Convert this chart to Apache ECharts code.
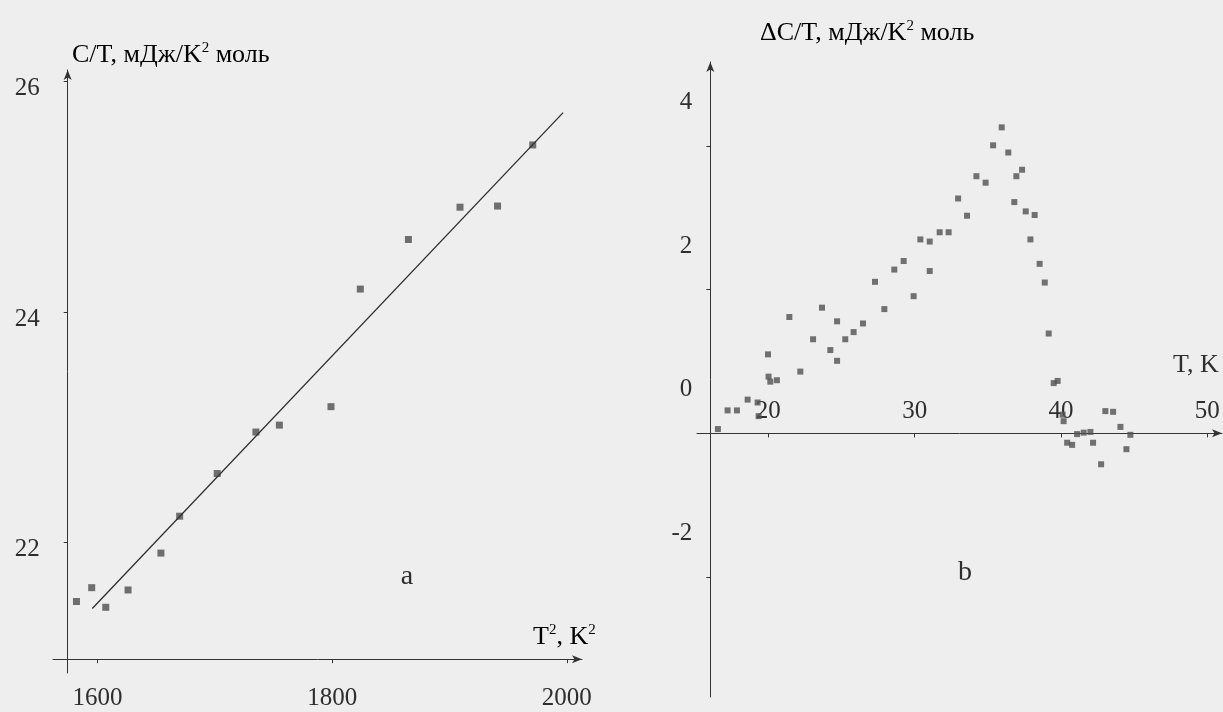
<!DOCTYPE html>
<html>
<head>
<meta charset="utf-8">
<script src="https://cdn.jsdelivr.net/npm/echarts@6/dist/echarts.min.js"></script>
<style>
html,body{margin:0;padding:0;background:#eeeeee;}
#c{width:1223px;height:712px;}
</style>
</head>
<body>
<div id="c"></div>
<script>
// ---- Panel a: C/T vs T^2 ----
const aT2 = [1582, 1595, 1607, 1626, 1654, 1670, 1702, 1735, 1755, 1799, 1824, 1865, 1909, 1941, 1971];
const aCT = [21.49, 21.61, 21.44, 21.59, 21.91, 22.23, 22.60, 22.96, 23.02, 23.18, 24.20, 24.63, 24.91, 24.92, 25.45];
const aFitT2 = [1595.5, 1996.9];
const aFitCT = [21.43, 25.73];
const aXTicks = [1600, 1800, 2000];
const aYTicks = [22, 24, 26];

// ---- Panel b: dC/T vs T ----
const bT = [16.56, 17.22, 17.86, 18.59, 19.27, 19.34, 19.98, 20.02, 20.14, 20.59,
  21.44, 22.19, 23.06, 23.67, 24.24, 24.70, 24.70, 25.26, 25.83, 26.47,
  27.29, 27.93, 28.61, 29.25, 29.93, 30.39, 31.03, 31.03, 31.71, 32.32,
  32.97, 33.58, 34.22, 34.85, 35.36, 35.95, 36.40, 36.95, 37.34, 36.81,
  37.59, 38.20, 37.91, 38.54, 38.89, 39.16, 39.50, 39.77, 40.11, 40.18,
  40.42, 40.76, 41.10, 41.55, 42.01, 42.19, 42.74, 43.03, 43.56, 44.06,
  44.47, 44.74];
const bDC = [0.06, 0.32, 0.32, 0.47, 0.43, 0.24, 1.10, 0.79, 0.72, 0.74,
  1.62, 0.86, 1.31, 1.75, 1.16, 1.56, 1.01, 1.31, 1.41, 1.53,
  2.11, 1.73, 2.28, 2.40, 1.91, 2.70, 2.67, 2.26, 2.80, 2.80,
  3.27, 3.03, 3.58, 3.49, 4.01, 4.26, 3.91, 3.58, 3.67, 3.22,
  3.09, 3.04, 2.70, 2.36, 2.10, 1.39, 0.70, 0.73, 0.26, 0.17,
  -0.13, -0.16, -0.01, 0.01, 0.02, -0.13, -0.43, 0.31, 0.30, 0.09,
  -0.22, -0.02];
const bXTicks = [20, 30, 40, 50];
const bYTicks = [-2, 0, 2, 4];

// axis ranges and crossing points
const aRange = {xMin: 1562, xMax: 2013, yMin: 20.87, yMax: 26.1, crossX: 1574.5, crossY: 20.99};
const bRange = {xMin: 15.13, xMax: 51, yMin: -3.67, yMax: 5.17, crossX: 16.04, crossY: 0};

const gA = {left: 53, top: 70, width: 529, height: 603};
const gB = {left: 697, top: 62, width: 525, height: 635};

const FONT = 'Liberation Serif';
const TXT = '#2e2e2e';
const AX = '#333';

function xOff(r, g) { return -(r.crossY - r.yMin) / (r.yMax - r.yMin) * g.height; }
function yOff(r, g) { return -(r.crossX - r.xMin) / (r.xMax - r.xMin) * g.width; }
const plain = v => String(v);

const axisLineStyle = {show: true, onZero: false, symbol: ['none', 'arrow'], symbolSize: [6, 10], lineStyle: {color: AX, width: 1}};

const chart = echarts.init(document.getElementById('c'), null, {renderer: 'canvas'});

const rich = {
  n: {fontSize: 26, fontFamily: FONT, color: TXT},
  s: {fontSize: 15, fontFamily: FONT, color: TXT, padding: [0, 0, 14, 0]}
};

chart.setOption({
  animation: false,
  backgroundColor: '#eeeeee',
  grid: [
    Object.assign({containLabel: false, outerBoundsMode: 'none'}, gA),
    Object.assign({containLabel: false, outerBoundsMode: 'none'}, gB)
  ],
  xAxis: [
    {
      gridIndex: 0, type: 'value', min: aRange.xMin, max: aRange.xMax,
      offset: xOff(aRange, gA),
      axisLine: axisLineStyle,
      axisTick: {show: true, length: 4, customValues: aXTicks, lineStyle: {color: AX}},
      axisLabel: {customValues: aXTicks, formatter: plain, margin: 27, fontFamily: FONT, fontSize: 25, color: TXT},
      splitLine: {show: false}
    },
    {
      gridIndex: 1, type: 'value', min: bRange.xMin, max: bRange.xMax,
      offset: xOff(bRange, gB),
      axisLine: axisLineStyle,
      axisTick: {show: true, length: 4, customValues: bXTicks, lineStyle: {color: AX}},
      axisLabel: {customValues: bXTicks, formatter: plain, inside: true, margin: 9, fontFamily: FONT, fontSize: 25, color: TXT},
      splitLine: {show: false}
    }
  ],
  yAxis: [
    {
      gridIndex: 0, type: 'value', min: aRange.yMin, max: aRange.yMax,
      offset: yOff(aRange, gA),
      axisLine: axisLineStyle,
      axisTick: {show: true, length: 4, customValues: aYTicks, lineStyle: {color: AX}},
      axisLabel: {customValues: aYTicks, formatter: plain, margin: 28, fontFamily: FONT, fontSize: 25, color: TXT, verticalAlign: 'top', lineHeight: 14},
      splitLine: {show: false}
    },
    {
      gridIndex: 1, type: 'value', min: bRange.yMin, max: bRange.yMax,
      offset: yOff(bRange, gB),
      axisLine: axisLineStyle,
      axisTick: {show: true, length: 4, customValues: bYTicks, lineStyle: {color: AX}},
      axisLabel: {customValues: bYTicks, formatter: plain, margin: 18, fontFamily: FONT, fontSize: 25, color: TXT, verticalAlign: 'bottom', padding: [0, 0, 31, 0]},
      splitLine: {show: false}
    }
  ],
  series: [
    {
      type: 'line', xAxisIndex: 0, yAxisIndex: 0,
      data: aFitT2.map((v, i) => [v, aFitCT[i]]),
      symbol: 'none', lineStyle: {color: '#2e2e2e', width: 1.3}, silent: true
    },
    {
      type: 'scatter', xAxisIndex: 0, yAxisIndex: 0,
      data: aT2.map((v, i) => [v, aCT[i]]),
      symbol: 'rect', symbolSize: 7, itemStyle: {color: '#4d4d4d'}
    },
    {
      type: 'scatter', xAxisIndex: 1, yAxisIndex: 1,
      data: bT.map((v, i) => [v, bDC[i]]),
      symbol: 'rect', symbolSize: 6, itemStyle: {color: '#505050'}
    }
  ],
  graphic: [
    {type: 'text', x: 72, y: 55, style: {text: '{n|C/T, мДж/K}{s|2}{n| моль}', rich: rich, align: 'left', verticalAlign: 'middle'}},
    {type: 'text', x: 760, y: 33, style: {text: '{n|ΔC/T, мДж/K}{s|2}{n| моль}', rich: rich, align: 'left', verticalAlign: 'middle'}},
    {type: 'text', x: 533, y: 637, style: {text: '{n|T}{s|2}{n|, K}{s|2}', rich: rich, align: 'left', verticalAlign: 'middle'}},
    {type: 'text', x: 1173, y: 365, style: {text: 'T, K', fontFamily: FONT, fontSize: 26, fill: TXT, align: 'left', verticalAlign: 'middle'}},
    {type: 'text', x: 407, y: 577, style: {text: 'a', fontFamily: FONT, fontSize: 28, fill: TXT, align: 'center', verticalAlign: 'middle'}},
    {type: 'text', x: 965, y: 573, style: {text: 'b', fontFamily: FONT, fontSize: 28, fill: TXT, align: 'center', verticalAlign: 'middle'}}
  ]
});
</script>
</body>
</html>
